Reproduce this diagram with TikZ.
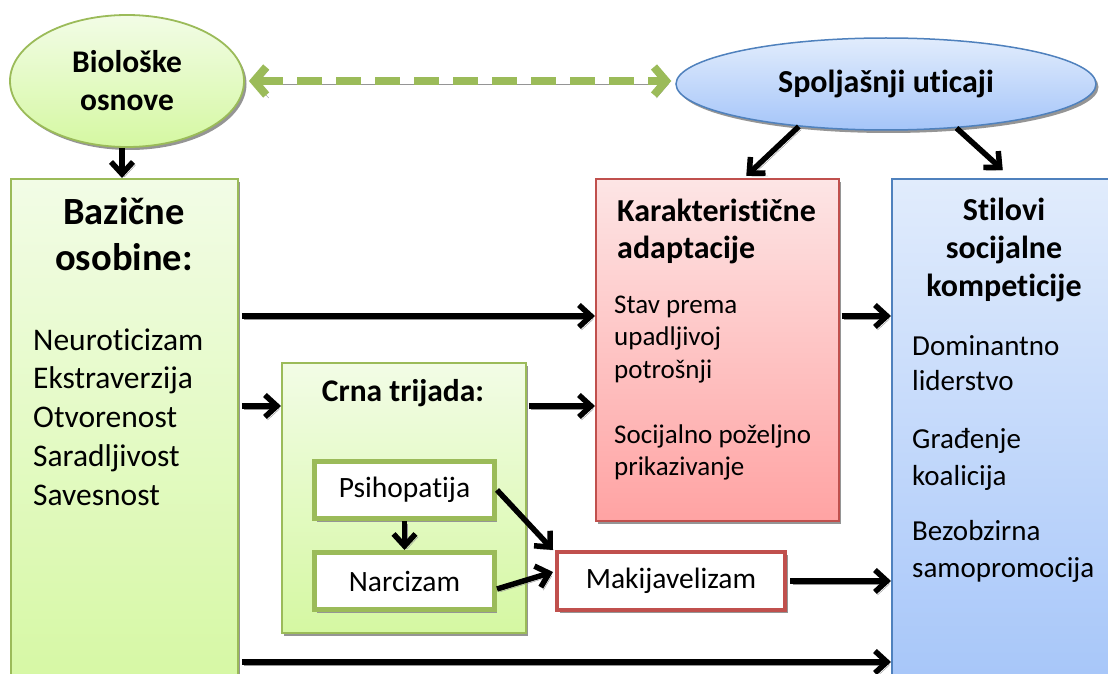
\documentclass[tikz,border=0pt]{standalone}
\usepackage{fontspec}
\setmainfont{Carlito}[RawFeature={-liga;-rlig;-clig;-calt;-dlig}]
\usetikzlibrary{arrows.meta,shapes.geometric,shadows}
\newcommand\nti{t\kern0pt i}
\definecolor{gbord}{HTML}{9BBB59}
\definecolor{rbord}{HTML}{C0504D}
\definecolor{bbord}{HTML}{4F81BD}
\definecolor{gtop}{HTML}{F2FCE6}
\definecolor{gbot}{HTML}{D5F8A2}
\definecolor{rtop}{HTML}{FDE5E5}
\definecolor{rbot}{HTML}{FFA3A3}
\definecolor{btop}{HTML}{E1ECFC}
\definecolor{bbot}{HTML}{A5C5F9}
\definecolor{shd}{HTML}{959595}
\tikzset{
  shad/.style={drop shadow={shadow xshift=2.5pt,shadow yshift=-3pt,fill=shd,opacity=1}},
  gbox/.style={rectangle,draw=gbord,line width=1.8pt,top color=gtop,bottom color=gbot,shad,inner sep=0pt,anchor=north west},
  rbox/.style={rectangle,draw=rbord,line width=1.5pt,top color=rtop,bottom color=rbot,shad,inner sep=0pt,anchor=north west},
  bbox/.style={rectangle,draw=bbord,line width=1.5pt,top color=btop,bottom color=bbot,inner sep=0pt,anchor=north west},
  smallbox/.style={rectangle,fill=white,line width=5pt,minimum width=180pt,minimum height=57pt,inner sep=0pt,font=\fontsize{29.5}{35}\selectfont,shad},
  arr/.style={line width=5.5pt,draw=black,-{Straight Barb[length=12pt,width=22pt]},
     preaction={draw=shd,transform canvas={shift={(2.5pt,-3pt)}}}},
  bt/.style={font=\bfseries\fontsize{32}{38}\selectfont,inner sep=0pt,anchor=base},
  bigbt/.style={font=\bfseries\fontsize{38.5}{45}\selectfont,inner sep=0pt,anchor=base},
  lt/.style={font=\fontsize{31.5}{38}\selectfont,inner sep=0pt,anchor=base west},
  rt/.style={font=\fontsize{27}{33}\selectfont,inner sep=0pt,anchor=base west},
  blt/.style={font=\fontsize{29}{35}\selectfont,inner sep=0pt,anchor=base west},
}
\begin{document}
\begin{tikzpicture}[x=1pt,y=-1pt]
\useasboundingbox (0,0) rectangle (1108,674);
\fill[white] (0,0) rectangle (1108,674);
% ellipses
\node[ellipse,draw=gbord,line width=1.8pt,top color=gtop,bottom color=gbot,shad,minimum width=234pt,minimum height=132pt,inner sep=0pt,align=center,font=\bfseries\fontsize{31.5}{38}\selectfont] (bio) at (127,81) {Biološke\\osnove};
\node[ellipse,draw=bbord,line width=1.5pt,top color=btop,bottom color=bbot,shad,minimum width=420pt,minimum height=92pt,inner sep=0pt,font=\bfseries\fontsize{32}{38}\selectfont] (spo) at (886,84) {Spoljašnji u\nti caji};
% big boxes
\node[gbox,minimum width=227pt,minimum height=520pt] (baz) at (10,178) {};
\node[rbox,minimum width=243pt,minimum height=342pt] (kar) at (595,178) {};
\node[bbox,minimum width=222pt,minimum height=520pt] (stil) at (891,178) {};
\node[gbox,minimum width=244pt,minimum height=270pt] (crna) at (281,362) {};
% small boxes
\node[smallbox,draw=gbord] (psi) at (404.5,490) {Psihopa\nti ja};
\node[smallbox,draw=gbord] (nar) at (404.5,581) {Narcizam};
\node[smallbox,draw=rbord,line width=4pt,minimum width=228pt,minimum height=58pt] (mak) at (671,581) {Makijavelizam};
% texts
\node[bigbt] (bz1) at (124,224) {Bazične};
\node[bigbt] (bz2) at (124,270) {osobine:};
\foreach \t [count=\i from 0] in {Neuro\nti cizam,Ekstraverzija,Otvorenost,Saradljivost,Savesnost}
  \node[lt] (bl\i) at (33,350+38.75*\i) {\t};
\node[bt,anchor=base west] (k1) at (617,221) {Karakteris\nti čne};
\node[bt,anchor=base west] (k2) at (617,258) {adaptacije};
\node[rt] (r1) at (614,313) {Stav prema};
\node[rt] (r2) at (614,345) {upadljivoj};
\node[rt] (r3) at (614,378) {potrošnji};
\node[rt] (r4) at (614,443) {Socijalno poželjno};
\node[rt] (r5) at (614,475) {prikazivanje};
\node[bt] (s1) at (1004,220) {S\nti lovi};
\node[bt] (s2) at (1004,258) {socijalne};
\node[bt] (s3) at (1004,296) {kompe\nti cije};
\node[blt] (t1) at (912,355) {Dominantno};
\node[blt] (t2) at (912,390) {liderstvo};
\node[blt] (t3) at (912,448) {Građenje};
\node[blt] (t4) at (912,485) {koalicija};
\node[blt] (t5) at (912,540) {Bezobzirna};
\node[blt] (t6) at (912,577) {samopromocija};
\node[font=\bfseries\fontsize{31.5}{38}\selectfont,inner sep=0pt,anchor=base] (ct) at (403,401) {Crna trijada:};
% helper rows
\coordinate (ya) at (0,316);
\coordinate (yb) at (0,406);
\coordinate (yc) at (0,662);
% dashed arrow
\draw[line width=8pt,draw=gbord,dash pattern=on 25pt off 14pt,
  {Straight Barb[length=12pt,width=28pt]}-{Straight Barb[length=12pt,width=28pt]},
  preaction={draw=shd,transform canvas={shift={(2.5pt,-3pt)}}}]
  ([xshift=4pt]bio.east) -- ([xshift=-4pt]bio.east -| spo.west);
% arrows
\draw[arr] ([xshift=-5pt]bio.south) -- ([xshift=-5pt]bio.south |- baz.north);
\draw[arr] (spo.206) -- ([xshift=29pt,yshift=2pt]kar.north);
\draw[arr] (spo.328) -- ([yshift=8pt]stil.north);
\draw[arr] ([xshift=3pt]baz.east |- ya) -- (kar.west |- ya);
\draw[arr] ([xshift=3pt]baz.east |- yb) -- (crna.west |- yb);
\draw[arr] ([xshift=2pt]crna.east |- yb) -- (kar.west |- yb);
\draw[arr] ([xshift=2pt]kar.east |- ya) -- (stil.west |- ya);
\draw[arr] ([xshift=3pt]mak.east) -- (stil.west |- mak.east);
\draw[arr] ([xshift=3pt]baz.east |- yc) -- (stil.west |- yc);
\draw[arr] (psi.south) -- (nar.north);
\draw[arr] (psi.east) -- ([xshift=-2pt]mak.north west);
\draw[arr] ([yshift=-8pt]nar.east) -- ([xshift=-2pt,yshift=9pt]mak.west);
\end{tikzpicture}
\end{document}
